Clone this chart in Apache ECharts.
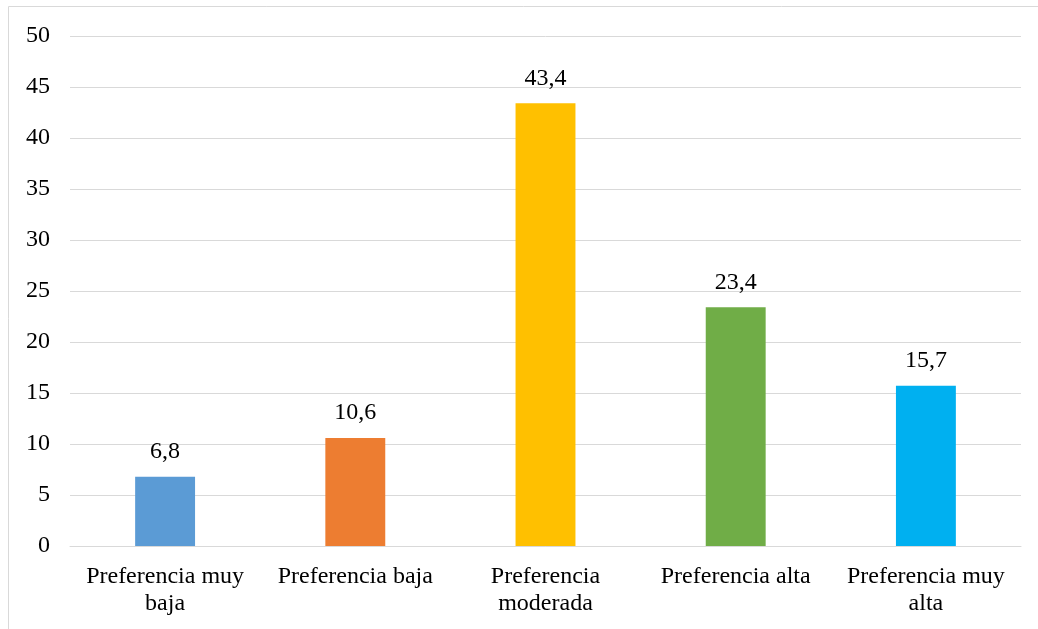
<!DOCTYPE html>
<html><head><meta charset="utf-8">
<script src="https://cdn.jsdelivr.net/npm/echarts@6/dist/echarts.min.js"></script>
<style>html,body{margin:0;padding:0;background:#fff}#c{width:1038px;height:629px}</style>
</head><body><div id="c"></div>
<script>
var categories = ['Preferencia muy\nbaja', 'Preferencia baja', 'Preferencia\nmoderada', 'Preferencia alta', 'Preferencia muy\nalta'];
var values = [6.8, 10.6, 43.4, 23.4, 15.7];
var colors = ['#5B9BD5', '#ED7D31', '#FFC000', '#70AD47', '#00B0F0'];
var font = '"Liberation Serif", "Times New Roman", serif';
var chart = echarts.init(document.getElementById('c'));
chart.setOption({
  animation: false,
  graphic: [{type:'rect', shape:{x:8.5, y:6.5, width:1100, height:700}, style:{fill:'none', stroke:'#d9d9d9', lineWidth:1}, silent:true}],
  grid: {left:70, right:17, top:36, bottom:83},
  xAxis: {type:'category', data:categories,
    axisLine:{show:true, lineStyle:{color:'#d9d9d9'}}, axisTick:{show:false},
    axisLabel:{color:'#000', fontFamily:font, fontSize:24, margin:17, lineHeight:27, interval:0}},
  yAxis: {type:'value', min:0, max:50, interval:5,
    axisLine:{show:false}, axisTick:{show:false},
    splitLine:{lineStyle:{color:'#d9d9d9'}},
    axisLabel:{color:'#000', fontFamily:font, fontSize:24, margin:20}},
  series: [{type:'bar', barWidth:'31.5%',
    data: values.map(function(v,i){return {value:v, itemStyle:{color:colors[i]}};}),
    label:{show:true, position:'top', distance:13, color:'#000', fontFamily:font, fontSize:24,
      formatter:function(p){return String(p.value).replace('.',',');}}}]
});
</script></body></html>
